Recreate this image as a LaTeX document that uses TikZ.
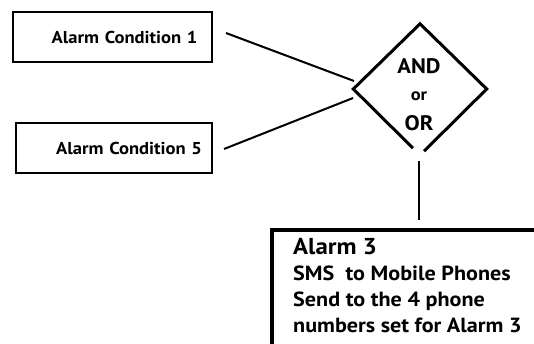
\documentclass[tikz,border=0pt]{standalone}
\usepackage{fontspec}
\setmainfont{PT Sans}[FakeStretch=1.08]
\usetikzlibrary{shapes.geometric,calc}
\begin{document}
\begin{tikzpicture}[x=1pt,y=-1pt,
  condbox/.style={draw, line width=2pt, minimum width=199pt, minimum height=50pt, inner xsep=0pt, align=right, font=\bfseries\fontsize{17.2}{22}\selectfont},
  wire/.style={line width=2pt},
  gate/.style={line width=3pt, line join=miter}]
\clip (0,0) rectangle (534,343);
\fill[white] (0,0) rectangle (534,343);
\node[condbox, text width=170pt] (c1) at (112.5,37) {Alarm Condition 1};
\node[condbox, minimum width=196pt, text width=176pt] (c5) at (114,148) {Alarm Condition 5};
\node[shape=diamond, minimum width=133pt, minimum height=130pt, inner sep=0pt] (g) at (420,89) {};
\node[align=center, inner sep=0pt, anchor=base, font=\bfseries\fontsize{21}{27}\selectfont] (gt) at (419,130) {AND\\{\fontsize{17}{27}\selectfont or}\\[3pt]OR};
\draw[gate] ($(g.south)+(-7,-6)$) -- (g.west) -- (g.north) -- (g.east) -- ($(g.south)+(4,-3)$);
\node[draw, line width=4pt, minimum width=300pt, minimum height=150pt, anchor=north west] (a3) at (270,228) {};
\node[anchor=base west, align=left, inner sep=0pt, font=\bfseries\fontsize{20.5}{26}\selectfont] (a3t) at (293,332) {{\fontsize{23}{26}\selectfont Alarm 3}\\SMS\ \ to Mobile Phones\\Send to the 4 phone\\numbers set for Alarm 3};
\coordinate (gl1) at (354,81);
\coordinate (gl2) at (353,98);
\coordinate (vt) at ($(g.south)+(-1,7)$);
\draw[wire] (c1.east)++(13,-4) -- (gl1);
\draw[wire] (c5.east)++(11,1) -- (gl2);
\draw[wire] (vt) -- ($(vt |- a3.north)+(0,-8)$);
\end{tikzpicture}
\end{document}
